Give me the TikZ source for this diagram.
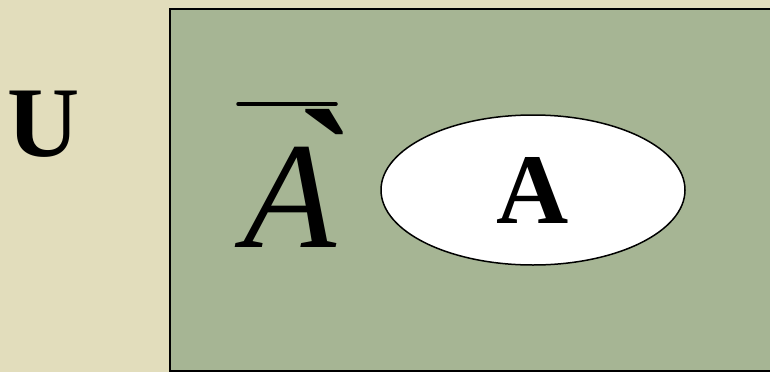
\documentclass[tikz,border=0pt]{standalone}
\usepackage{fontspec}
\setmainfont{Liberation Serif}
\usetikzlibrary{shapes.geometric}
\definecolor{paper}{RGB}{226,221,188}
\definecolor{field}{RGB}{166,181,148}

\begin{document}
\begin{tikzpicture}[x=1pt,y=-1pt,
    setlabel/.style={font=\fontsize{100}{100}\selectfont\bfseries}]
    % background
    \fill[paper] (0,0) rectangle (770,372);
    \useasboundingbox (0,0) rectangle (770,372);
    % universe U
    \fill[field] (170,9) rectangle (772,371);
    \draw[line width=1.5pt] (772,9) -- (170,9) -- (170,371) -- (772,371);
    \node[setlabel, anchor=base] (univ) at (44,156) {U};
    % set A
    \node[ellipse, draw, line width=1.5pt, fill=white, minimum width=304pt,
      minimum height=150pt, inner sep=0pt, setlabel] (setA) at (533,190) {A};
    % complement of A
    \node[anchor=base, font=\fontsize{152}{152}\selectfont\itshape,
      inner sep=0pt] (compl) at (290,247) {A};
    \node[anchor=north, font=\fontsize{170}{170}\selectfont\bfseries,
      inner sep=0pt] (acc) at (327,108)
      {\raisebox{-0.5em}[0.2em][0pt]{\textasciigrave}};
    \draw[line width=3.5pt, line cap=round] (238,104) -- (336,104);
\end{tikzpicture}
\end{document}
